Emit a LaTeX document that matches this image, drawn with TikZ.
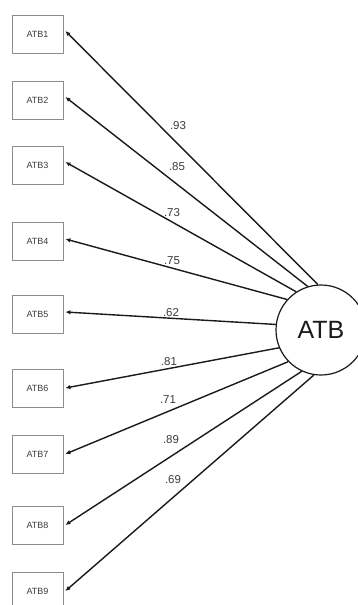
\documentclass[tikz,border=0pt]{standalone}
\usepackage{fontspec}
\setmainfont{Liberation Sans}
\usetikzlibrary{arrows.meta}
\definecolor{boxline}{HTML}{8C8C8C}
\definecolor{ink}{HTML}{1A1A1A}
\definecolor{labelgray}{HTML}{3C3C3C}
\tikzset{
  indicator/.style={draw=boxline, line width=0.8pt, minimum width=51pt, minimum height=38pt,
    inner sep=0pt, font=\fontsize{9}{10}\selectfont, text=labelgray},
  latent/.style={draw=ink, circle, line width=1.2pt, minimum size=90pt, inner sep=0pt,
    font=\fontsize{25}{28}\selectfont, text=ink},
  loading/.style={draw=ink, line width=1.4pt, -{Latex[length=5pt,width=4.5pt]}},
  coef/.style={font=\fontsize{11.5}{12}\selectfont, text=labelgray, inner sep=0pt}
}
\begin{document}
\begin{tikzpicture}[x=1pt,y=-1pt]
\useasboundingbox (0,0) rectangle (358,605);
\fill[white] (0,0) rectangle (358,605);

% observed indicators
\node[indicator] (b1) at (37.5,34)  {ATB1};
\node[indicator] (b2) at (37.5,100) {ATB2};
\node[indicator] (b3) at (37.5,165) {ATB3};
\node[indicator] (b4) at (37.5,241) {ATB4};
\node[indicator] (b5) at (37.5,314) {ATB5};
\node[indicator] (b6) at (37.5,388) {ATB6};
\node[indicator] (b7) at (37.5,454) {ATB7};
\node[indicator] (b8) at (37.5,525) {ATB8};
\node[indicator] (b9) at (37.5,591) {ATB9};

% latent factor
\node[latent] (f) at (321,330) {ATB};

% factor loadings
\draw[loading] (f.94)  -- ([xshift=2pt,yshift=3pt]b1.east);
\draw[loading] (f.107) -- ([xshift=2pt,yshift=3pt]b2.east);
\draw[loading] (f.123) -- ([xshift=2pt,yshift=3pt]b3.east);
\draw[loading] (f.138) -- ([xshift=2pt,yshift=2pt]b4.east);
\draw[loading] (f.173) -- ([xshift=2pt,yshift=2pt]b5.east);
\draw[loading] (f.203) -- ([xshift=2pt]b6.east);
\draw[loading] (f.224) -- ([xshift=2pt]b7.east);
\draw[loading] (f.245) -- ([xshift=2pt]b8.east);
\draw[loading] (f.261) -- ([xshift=2pt]b9.east);

% loading values
\node[coef] (l1) at (178,126) {.93};
\node[coef] (l2) at (177,167) {.85};
\node[coef] (l3) at (172,213) {.73};
\node[coef] (l4) at (172,261) {.75};
\node[coef] (l5) at (171,313) {.62};
\node[coef] (l6) at (169,362) {.81};
\node[coef] (l7) at (168,400) {.71};
\node[coef] (l8) at (171,440) {.89};
\node[coef] (l9) at (173,480) {.69};
\end{tikzpicture}
\end{document}
